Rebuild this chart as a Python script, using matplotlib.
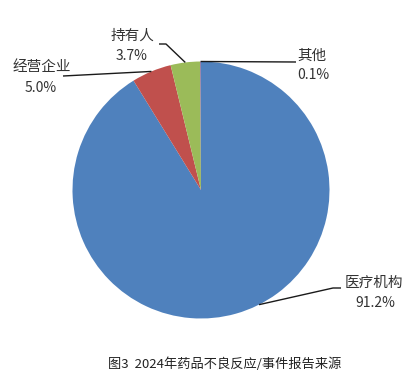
import matplotlib
matplotlib.use("Agg")
import matplotlib.pyplot as plt
import numpy as np

plt.rcParams['font.family'] = ['Noto Sans CJK SC', 'DejaVu Sans']

categories = ['医疗机构', '经营企业', '持有人', '其他']
values = [91.2, 5.0, 3.7, 0.1]
pct_labels = ['91.2%', '5.0%', '3.7%', '0.1%']
colors = ['#4F81BD', '#C0504D', '#9BBB59', '#8064A2']
title = '图3  2024年药品不良反应/事件报告来源'

W, H = 415, 385
R = 128.5
CX, CY = 201, 190

fig = plt.figure(figsize=(W / 100, H / 100), dpi=100)
ax = fig.add_axes([0, 0, 1, 1])

wedges, _ = ax.pie(values, colors=colors, startangle=90, counterclock=False,
                   radius=1.0, wedgeprops=dict(linewidth=0))
ax.set_xlim(-CX / R, (W - CX) / R)
ax.set_ylim((CY - H) / R, CY / R)
ax.set_aspect('auto')
ax.axis('off')


def px(x, y):
    return (x - CX) / R, (CY - y) / R


def edge_point(w, offset=0.0):
    ang = np.deg2rad((w.theta1 + w.theta2) / 2 + offset)
    return np.cos(ang), np.sin(ang)


# label layout (pixel positions): name center, pct center, leader path (excluding anchor)
layout = [
    dict(name=(374, 283), pct=(375, 303), path=[(333, 288), (341, 288)], off=11),
    dict(name=(42, 67), pct=(41, 88), path=[(63, 76)], off=0),
    dict(name=(133, 36), pct=(132, 56), path=[(166, 44), (159, 44)], off=0),
    dict(name=(312, 56), pct=(313, 75), path=[(296, 62)], off=0),
]

txtcol = '#333333'
for w, cat, pct, lay in zip(wedges, categories, pct_labels, layout):
    ax.text(*px(*lay['name']), cat, ha='center', va='center', fontsize=10.5, color=txtcol)
    ax.text(*px(*lay['pct']), pct, ha='center', va='center', fontsize=10, color=txtcol)
    sx, sy = edge_point(w, lay['off'])
    pts = [(sx, sy)] + [px(*p) for p in lay['path']]
    xs, ys = zip(*pts)
    ax.plot(xs, ys, color='#1a1a1a', linewidth=1.0, solid_capstyle='butt')

ax.text(*px(225, 364), title, ha='center', va='center', fontsize=9.5, color='#222222')

fig.savefig('out.png', dpi=100)
